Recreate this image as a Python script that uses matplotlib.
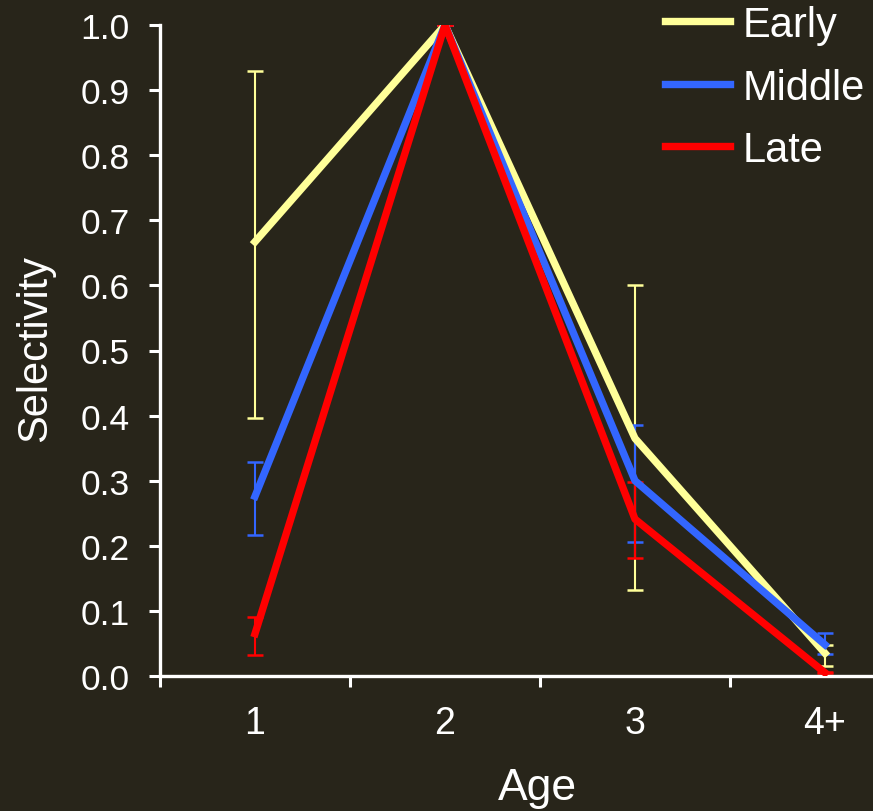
import matplotlib
matplotlib.use("Agg")
import matplotlib.pyplot as plt
import numpy as np

plt.rcParams['font.family'] = ['Liberation Sans', 'DejaVu Sans']

ages = ['1', '2', '3', '4+']
series = ['Early', 'Middle', 'Late']
early = [0.667, 1.0, 0.365, 0.035]
early_lo = [0.396, 1.0, 0.132, 0.015]
early_hi = [0.929, 1.0, 0.600, 0.048]
middle = [0.276, 1.0, 0.300, 0.048]
middle_lo = [0.217, 1.0, 0.206, 0.034]
middle_hi = [0.329, 1.0, 0.386, 0.066]
late = [0.065, 1.0, 0.241, 0.005]
late_lo = [0.032, 1.0, 0.181, 0.004]
late_hi = [0.090, 1.0, 0.298, 0.006]
colors = ['#FFFF99', '#3366FF', '#FF0000']

bg = '#28251A'
W, H = 873, 812
fig = plt.figure(figsize=(W / 100, H / 100), dpi=100, facecolor=bg)
ax = fig.add_axes([160 / W, 1 - 677 / H, 760 / W, 651 / H])
ax.set_facecolor(bg)

x = np.arange(len(ages))
data = [(early, early_lo, early_hi), (middle, middle_lo, middle_hi), (late, late_lo, late_hi)]
for name, (v, lo, hi), c in zip(series, data, colors):
    v = np.array(v); lo = np.array(lo); hi = np.array(hi)
    ax.errorbar(x, v, yerr=[v - lo, hi - v], fmt='none', ecolor=c,
                elinewidth=1.5, capsize=6, capthick=1.8, zorder=2)
    ax.plot(x, v, color=c, lw=5.3, label=name, zorder=3)

ax.set_xlim(-0.5, 3.5)
ax.set_ylim(0, 1.0)
yt = np.arange(0, 1.01, 0.1)
ax.set_yticks(yt)
ax.set_yticklabels(['%.1f' % t for t in yt])
ax.set_xticks(np.arange(-0.5, 3.6, 1.0))
ax.set_xticklabels([])
ax.set_xticks(x, minor=True)
ax.set_xticklabels(ages, minor=True)
ax.tick_params(axis='x', which='minor', length=0, labelsize=27, colors='white', pad=21)
ax.tick_params(axis='x', which='major', length=8, width=2.2, color='white', direction='out')
ax.tick_params(axis='y', length=8, width=2.2, colors='white', labelsize=25.5, pad=14)

for s in ['top', 'right']:
    ax.spines[s].set_visible(False)
for s in ['left', 'bottom']:
    ax.spines[s].set_color('white')
    ax.spines[s].set_linewidth(2.4)

fig.text(35 / W, 1 - 348 / H, 'Selectivity', color='white', fontsize=30,
         rotation=90, ha='center', va='center')
fig.text(537 / W, 1 - 800 / H, 'Age', color='white', fontsize=32,
         ha='center', va='baseline')

leg = ax.legend(loc='upper left', bbox_to_anchor=(665 / W, 1 - 6 / H),
                bbox_transform=fig.transFigure, frameon=False, borderpad=0,
                borderaxespad=0, fontsize=30, handlelength=1.56, handletextpad=0.31,
                labelspacing=0.54, labelcolor='white')

fig.savefig('out.png', dpi=100, facecolor=bg)
